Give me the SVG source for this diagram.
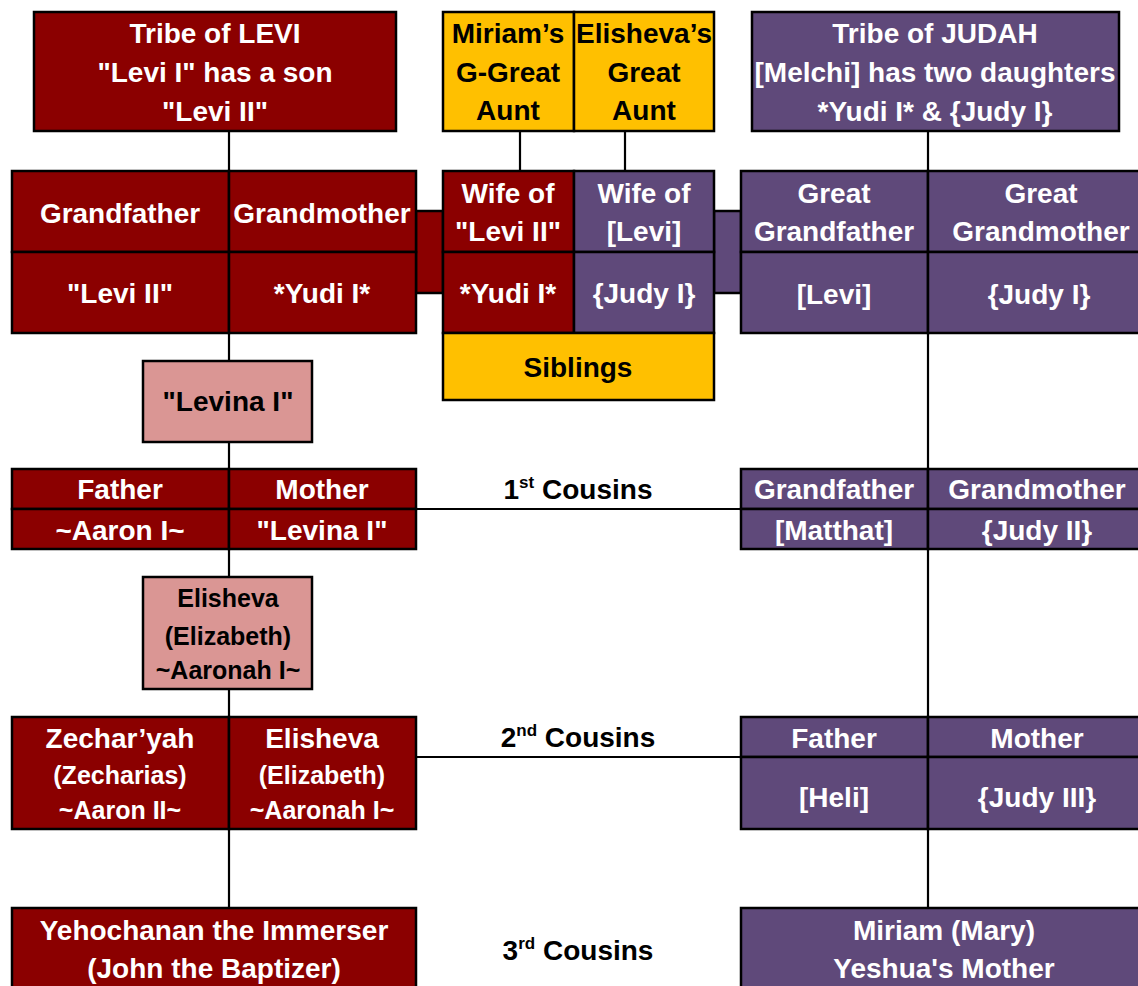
<svg xmlns="http://www.w3.org/2000/svg" width="1138" height="986" viewBox="0 0 1138 986">
<style>
  text { font-family: "Liberation Sans", Arial, sans-serif; font-weight: bold; font-size: 28px; text-anchor: middle; }
  .w { fill: #ffffff; }
  .k { fill: #000000; }
  .s { font-size: 25px; }
  .red { fill: #8B0000; stroke: #000; stroke-width: 2.5; }
  .pur { fill: #5F497A; stroke: #000; stroke-width: 2.5; }
  .yel { fill: #FFC000; stroke: #000; stroke-width: 2.5; }
  .pink { fill: #DA9694; stroke: #000; stroke-width: 2.5; }
  .ln { stroke: #000; stroke-width: 2.2; fill: none; }
  .sup { font-size: 17px; }
</style>
<rect width="1138" height="986" fill="#ffffff"/>

<g id="connectors">
  <line class="ln" x1="229" y1="131" x2="229" y2="171"/>
  <line class="ln" x1="229" y1="333" x2="229" y2="361"/>
  <line class="ln" x1="229" y1="442" x2="229" y2="469"/>
  <line class="ln" x1="229" y1="549" x2="229" y2="577"/>
  <line class="ln" x1="229" y1="689" x2="229" y2="717"/>
  <line class="ln" x1="229" y1="829" x2="229" y2="908"/>
  <line class="ln" x1="520" y1="131" x2="520" y2="171"/>
  <line class="ln" x1="625" y1="131" x2="625" y2="171"/>
  <line class="ln" x1="928" y1="131" x2="928" y2="171"/>
  <line class="ln" x1="928" y1="333" x2="928" y2="469"/>
  <line class="ln" x1="928" y1="549" x2="928" y2="717"/>
  <line class="ln" x1="928" y1="829" x2="928" y2="908"/>
  <line class="ln" x1="416" y1="509" x2="741" y2="509"/>
  <line class="ln" x1="416" y1="757" x2="741" y2="757"/>
  <rect class="red" x="416" y="211" width="27" height="82"/>
  <rect class="pur" x="714" y="211" width="27" height="82"/>
</g>

<g id="levi-tribe">
  <rect class="red" x="34" y="12" width="362" height="119"/>
  <text class="w" x="215" y="43">Tribe of LEVI</text>
  <text class="w" x="215" y="82">"Levi I" has a son</text>
  <text class="w" x="215" y="121">"Levi II"</text>
</g>

<g id="aunts">
  <rect class="yel" x="443" y="12" width="131" height="119"/>
  <rect class="yel" x="574" y="12" width="140" height="119"/>
  <text class="k" x="508" y="43">Miriam’s</text>
  <text class="k" x="508" y="82">G-Great</text>
  <text class="k" x="508" y="120">Aunt</text>
  <text class="k" x="644" y="43">Elisheva’s</text>
  <text class="k" x="644" y="82">Great</text>
  <text class="k" x="644" y="120">Aunt</text>
</g>

<g id="judah-tribe">
  <rect class="pur" x="752" y="12" width="367" height="119"/>
  <text class="w" x="935" y="43">Tribe of JUDAH</text>
  <text class="w" x="935" y="82">[Melchi] has two daughters</text>
  <text class="w" x="935" y="121">*Yudi I* &amp; {Judy I}</text>
</g>

<g id="grandparents-levi">
  <rect class="red" x="12" y="171" width="217" height="81"/>
  <rect class="red" x="229" y="171" width="187" height="81"/>
  <rect class="red" x="12" y="252" width="217" height="81"/>
  <rect class="red" x="229" y="252" width="187" height="81"/>
  <text class="w" x="120" y="223">Grandfather</text>
  <text class="w" x="322" y="223">Grandmother</text>
  <text class="w" x="120" y="303">"Levi II"</text>
  <text class="w" x="322" y="303">*Yudi I*</text>
</g>

<g id="wives">
  <rect class="red" x="443" y="171" width="131" height="81"/>
  <rect class="pur" x="574" y="171" width="140" height="81"/>
  <rect class="red" x="443" y="252" width="131" height="81"/>
  <rect class="pur" x="574" y="252" width="140" height="81"/>
  <text class="w" x="508" y="203">Wife of</text>
  <text class="w" x="508" y="241">"Levi II"</text>
  <text class="w" x="644" y="203">Wife of</text>
  <text class="w" x="644" y="241">[Levi]</text>
  <text class="w" x="508" y="303">*Yudi I*</text>
  <text class="w" x="644" y="303">{Judy I}</text>
</g>

<g id="siblings">
  <rect class="yel" x="443" y="333" width="271" height="67"/>
  <text class="k" x="578" y="377">Siblings</text>
</g>

<g id="great-grandparents-judah">
  <rect class="pur" x="741" y="171" width="187" height="81"/>
  <rect class="pur" x="928" y="171" width="214" height="81"/>
  <rect class="pur" x="741" y="252" width="187" height="81"/>
  <rect class="pur" x="928" y="252" width="214" height="81"/>
  <text class="w" x="834" y="203">Great</text>
  <text class="w" x="834" y="241">Grandfather</text>
  <text class="w" x="1041" y="203">Great</text>
  <text class="w" x="1041" y="241">Grandmother</text>
  <text class="w" x="834" y="304">[Levi]</text>
  <text class="w" x="1039" y="304">{Judy I}</text>
</g>

<g id="levina">
  <rect class="pink" x="143" y="361" width="169" height="81"/>
  <text class="k" x="228" y="411">"Levina I"</text>
</g>

<g id="parents-levi">
  <rect class="red" x="12" y="469" width="217" height="40"/>
  <rect class="red" x="229" y="469" width="187" height="40"/>
  <rect class="red" x="12" y="509" width="217" height="40"/>
  <rect class="red" x="229" y="509" width="187" height="40"/>
  <text class="w" x="120" y="499">Father</text>
  <text class="w" x="322" y="499">Mother</text>
  <text class="w" x="120" y="540">~Aaron I~</text>
  <text class="w" x="322" y="540">"Levina I"</text>
</g>

<g id="cousins1">
  <text class="k" x="578" y="499">1<tspan class="sup" dy="-11">st</tspan><tspan dy="11"> Cousins</tspan></text>
</g>

<g id="grandparents-judah">
  <rect class="pur" x="741" y="469" width="187" height="40"/>
  <rect class="pur" x="928" y="469" width="214" height="40"/>
  <rect class="pur" x="741" y="509" width="187" height="40"/>
  <rect class="pur" x="928" y="509" width="214" height="40"/>
  <text class="w" x="834" y="499">Grandfather</text>
  <text class="w" x="1037" y="499">Grandmother</text>
  <text class="w" x="834" y="540">[Matthat]</text>
  <text class="w" x="1037" y="540">{Judy II}</text>
</g>

<g id="elisheva">
  <rect class="pink" x="143" y="577" width="169" height="112"/>
  <text class="k s" x="228" y="607">Elisheva</text>
  <text class="k s" x="228" y="645">(Elizabeth)</text>
  <text class="k s" x="228" y="679">~Aaronah I~</text>
</g>

<g id="parents-zecharyah">
  <rect class="red" x="12" y="717" width="217" height="112"/>
  <rect class="red" x="229" y="717" width="187" height="112"/>
  <text class="w" x="120" y="748">Zechar’yah</text>
  <text class="w s" x="120" y="784">(Zecharias)</text>
  <text class="w s" x="120" y="819">~Aaron II~</text>
  <text class="w" x="322" y="748">Elisheva</text>
  <text class="w s" x="322" y="784">(Elizabeth)</text>
  <text class="w s" x="322" y="819">~Aaronah I~</text>
</g>

<g id="cousins2">
  <text class="k" x="578" y="747">2<tspan class="sup" dy="-11">nd</tspan><tspan dy="11"> Cousins</tspan></text>
</g>

<g id="parents-judah">
  <rect class="pur" x="741" y="717" width="187" height="40"/>
  <rect class="pur" x="928" y="717" width="214" height="40"/>
  <rect class="pur" x="741" y="757" width="187" height="72"/>
  <rect class="pur" x="928" y="757" width="214" height="72"/>
  <text class="w" x="834" y="748">Father</text>
  <text class="w" x="1037" y="748">Mother</text>
  <text class="w" x="834" y="807">[Heli]</text>
  <text class="w" x="1037" y="807">{Judy III}</text>
</g>

<g id="yehochanan">
  <rect class="red" x="12" y="908" width="404" height="90"/>
  <text class="w" x="214" y="940">Yehochanan the Immerser</text>
  <text class="w" x="214" y="978">(John the Baptizer)</text>
</g>

<g id="cousins3">
  <text class="k" x="578" y="960">3<tspan class="sup" dy="-11">rd</tspan><tspan dy="11"> Cousins</tspan></text>
</g>

<g id="miriam">
  <rect class="pur" x="741" y="908" width="405" height="90"/>
  <text class="w" x="944" y="940">Miriam (Mary)</text>
  <text class="w" x="944" y="978">Yeshua's Mother</text>
</g>
</svg>
